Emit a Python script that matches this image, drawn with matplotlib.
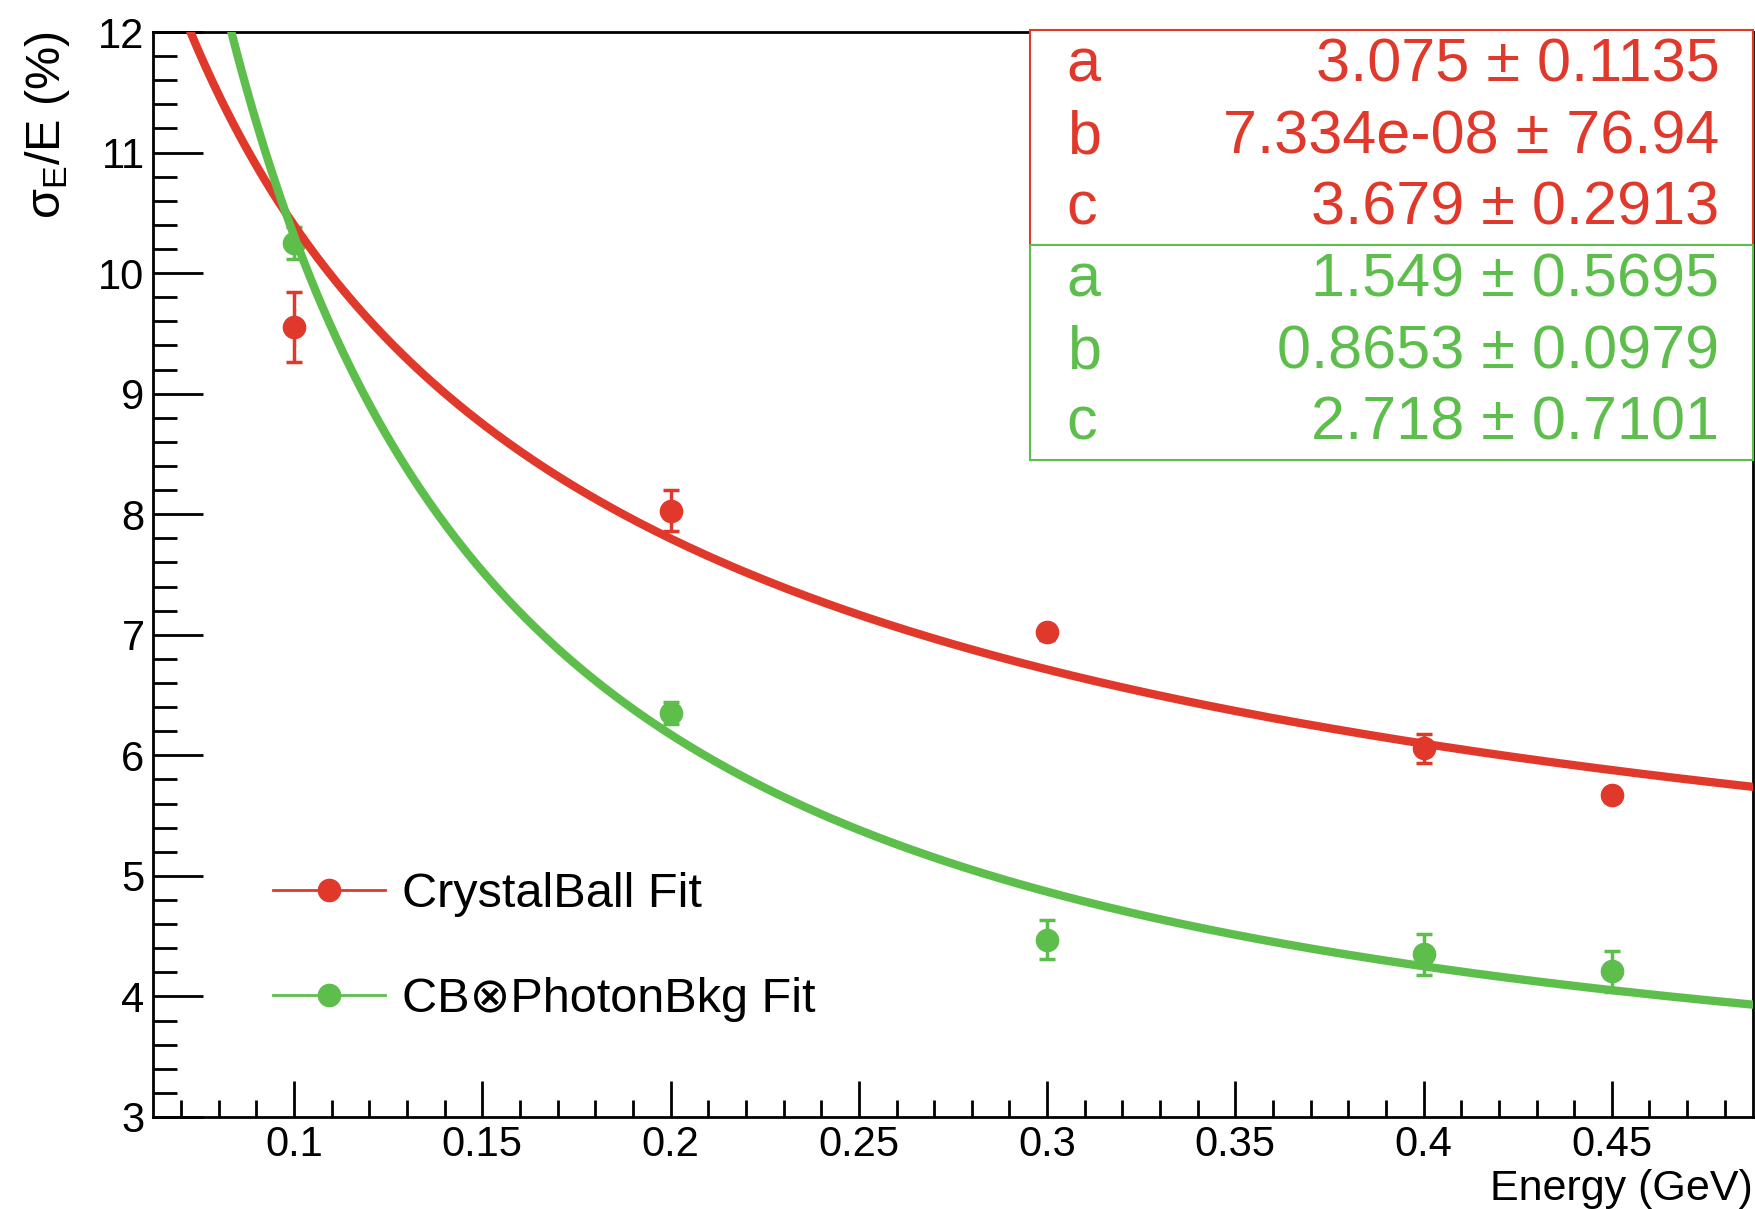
import numpy as np
import matplotlib
matplotlib.use("Agg")
import matplotlib.pyplot as plt
from matplotlib.lines import Line2D
from matplotlib.patches import Rectangle

plt.rcParams['font.family'] = ['Liberation Sans', 'DejaVu Sans']
plt.rcParams['mathtext.fontset'] = 'custom'
plt.rcParams['mathtext.rm'] = 'Liberation Sans'
plt.rcParams['mathtext.it'] = 'Liberation Sans'

# measured points (energy in GeV, resolution in %)
energy = [0.1, 0.2, 0.3, 0.4, 0.45]
cb_res = [9.55, 8.03, 7.02, 6.06, 5.67]
cb_err = [0.29, 0.17, 0.06, 0.12, 0.06]
cbpb_res = [10.25, 6.35, 4.47, 4.35, 4.21]
cbpb_err = [0.13, 0.09, 0.16, 0.17, 0.17]

# fit parameters a, b, c and their errors
par_names = ['a', 'b', 'c']
cb_pars = [3.075, 7.334e-08, 3.679]
cb_par_txt = ['3.075 \u00b1 0.1135', '7.334e-08 \u00b1 76.94', '3.679 \u00b1 0.2913']
cbpb_pars = [1.549, 0.8653, 2.718]
cbpb_par_txt = ['1.549 \u00b1 0.5695', '0.8653 \u00b1 0.0979', '2.718 \u00b1 0.7101']

labels = ['CrystalBall Fit', 'CB\u2297PhotonBkg Fit']

red = '#E0392B'
green = '#5DBE4C'

xmin, xmax = 0.0625, 0.4875


def resol(e, p):
    a, b, c = p
    return np.sqrt((a / np.sqrt(e))**2 + (b / e)**2 + c**2)


fig = plt.figure(figsize=(17.56, 12.09), dpi=100)
ax = fig.add_axes([0.0871, 0.0761, 0.9112, 0.8974])

ax.errorbar(energy, cb_res, yerr=cb_err, fmt='o', color=red, ms=16,
            elinewidth=2.5, capsize=6, capthick=2.5, zorder=3)
ax.errorbar(energy, cbpb_res, yerr=cbpb_err, fmt='o', color=green, ms=16,
            elinewidth=2.5, capsize=6, capthick=2.5, zorder=3)

xf = np.linspace(xmin, xmax, 500)
ax.plot(xf, resol(xf, cb_pars), color=red, lw=6, zorder=4)
ax.plot(xf, resol(xf, cbpb_pars), color=green, lw=6, zorder=4)

ax.set_xlim(xmin, xmax)
ax.set_ylim(3, 12)
ax.set_xticks(np.arange(0.1, 0.46, 0.05))
ax.set_xticklabels(['0.1', '0.15', '0.2', '0.25', '0.3', '0.35', '0.4', '0.45'])
ax.set_xticks(np.arange(0.07, 0.49, 0.01), minor=True)
ax.set_yticks(np.arange(3, 13, 1))
ax.set_yticks(np.arange(3, 12.01, 0.2), minor=True)

ax.tick_params(which='both', direction='in', top=False, right=False,
               width=2, labelsize=30, pad=6)
ax.tick_params(axis='y', which='major', length=36)
ax.tick_params(axis='y', which='minor', length=17)
ax.tick_params(axis='x', which='major', length=26)
ax.tick_params(axis='x', which='minor', length=12.5)
for s in ax.spines.values():
    s.set_linewidth(2)

fig.text(0.998, 0.0, 'Energy (GeV)', ha='right', va='bottom', fontsize=31)
fig.text(0.027, 0.974, r'$\sigma_{E}$/E (%)', rotation=90, ha='center', va='top',
         fontsize=35)

# fit parameter boxes
boxes = [(cb_par_txt, red, 1.0018, 0.8037), (cbpb_par_txt, green, 0.8037, 0.6055)]
for txts, col, top, bot in boxes:
    ax.add_patch(Rectangle((0.548, bot), 1.0 - 0.548, top - bot, transform=ax.transAxes,
                           facecolor='white', edgecolor=col, lw=1.5, clip_on=False, zorder=5))
    step = (top - bot) / 3
    for i, (nm, t) in enumerate(zip(par_names, txts)):
        yy = top - step * (i + 0.5)
        ax.text(0.571, yy, nm, transform=ax.transAxes, color=col, fontsize=44,
                ha='left', va='center', zorder=6)
        ax.text(0.979, yy, t, transform=ax.transAxes, color=col, fontsize=44,
                ha='right', va='center', zorder=6)

handles = [Line2D([], [], color=red, lw=2, marker='o', ms=16),
           Line2D([], [], color=green, lw=2, marker='o', ms=16)]
ax.legend(handles, labels, loc='lower left', bbox_to_anchor=(0.075, 0.088),
          frameon=False, fontsize=35, handlelength=2.3, handletextpad=0.36,
          labelspacing=1.22, borderpad=0, borderaxespad=0)

fig.savefig('out.png', dpi=100)
